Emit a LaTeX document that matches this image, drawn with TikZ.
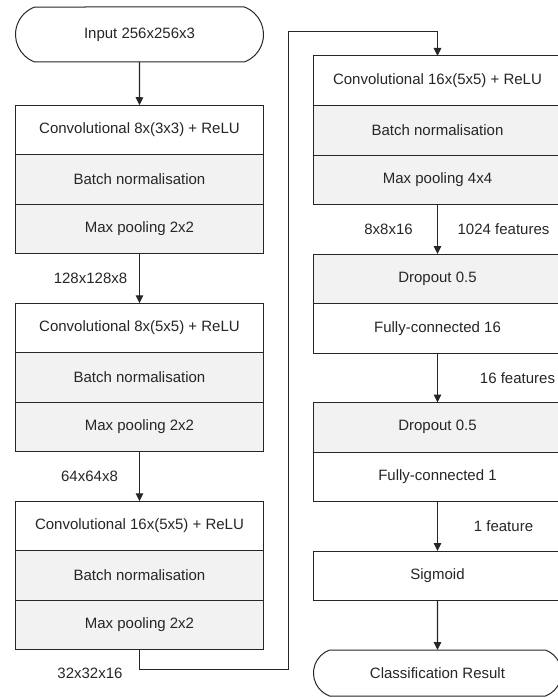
\documentclass[tikz,border=0pt]{standalone}
\usepackage{fontspec}
\setmainfont{Liberation Sans}
\usepackage{tikz}
\usetikzlibrary{positioning, arrows.meta, shapes.misc}

\definecolor{inkgrey}{HTML}{262626}
\definecolor{shadegrey}{HTML}{F2F2F2}

\tikzset{
	layer/.style={draw=inkgrey, fill=white, text=inkgrey, line width=1pt, minimum width=248pt, minimum height=49.5pt, inner sep=0pt, outer sep=0pt, font=\fontsize{15}{18}\selectfont},
	greylayer/.style={layer, fill=shadegrey},
	terminal/.style={layer, rounded rectangle, rounded rectangle arc length=140},
	flow/.style={-{Triangle[length=8pt, width=7.5pt]}, draw=inkgrey, line width=1.25pt},
	info/.style={text=inkgrey, font=\fontsize{15}{18}\selectfont}
}

\begin{document}
\begin{tikzpicture}[x=1pt, y=-1pt, node distance=49.5pt]
	\useasboundingbox (0,0) rectangle (557,698);
	
	% left column
	\node[terminal, minimum height=55pt] (input) at (139.5,34.5) {Input 256x256x3};
	\node[layer] (conv1) at (139.5,130) {Convolutional 8x(3x3) + ReLU};
	\node[greylayer, below=0pt of conv1] (bn1) {Batch normalisation};
	\node[greylayer, below=0pt of bn1] (pool1) {Max pooling 2x2};
	\node[layer, below=of pool1] (conv2) {Convolutional 8x(5x5) + ReLU};
	\node[greylayer, below=0pt of conv2] (bn2) {Batch normalisation};
	\node[greylayer, below=0pt of bn2] (pool2) {Max pooling 2x2};
	\node[layer, below=of pool2] (conv3) {Convolutional 16x(5x5) + ReLU};
	\node[greylayer, below=0pt of conv3] (bn3) {Batch normalisation};
	\node[greylayer, below=0pt of bn3] (pool3) {Max pooling 2x2};
	
	% right column
	\node[layer] (conv4) at (437.5,80.75) {Convolutional 16x(5x5) + ReLU};
	\node[greylayer, below=0pt of conv4] (bn4) {Batch normalisation};
	\node[greylayer, below=0pt of bn4] (pool4) {Max pooling 4x4};
	\node[greylayer, below=of pool4] (drop1) {Dropout 0.5};
	\node[layer, below=0pt of drop1] (fc16) {Fully-connected 16};
	\node[greylayer, below=of fc16] (drop2) {Dropout 0.5};
	\node[layer, below=0pt of drop2] (fc1) {Fully-connected 1};
	\node[layer, below=of fc1] (sigmoid) {Sigmoid};
	\node[terminal, minimum height=46pt, below=of sigmoid] (result) {Classification Result};
	
	\coordinate (turnlow) at (288.5,669.5);
	\coordinate (turnhigh) at (288.5,31.5);
	
	\draw (input) edge[flow] node{} (conv1) ;
	\draw (pool1) edge[flow] node[info, xshift=-49pt]{128x128x8} (conv2) ;
	\draw (pool2) edge[flow] node[info, xshift=-50pt]{64x64x8} (conv3) ;
	\draw[flow] (pool3.south) |- (turnlow) -- (turnhigh) -| (conv4.north) ;
	\node[info] (size3) at (90,673) {32x32x16};
	\draw (pool4) edge[flow] node[info, xshift=-49pt]{8x8x16} node[info, xshift=66pt]{1024 features} (drop1) ;
	\draw (fc16) edge[flow] node[info, xshift=80pt]{16 features} (drop2) ;
	\draw (fc1) edge[flow] node[info, xshift=66pt]{1 feature} (sigmoid) ;
	\draw (sigmoid) edge[flow] node{} (result) ;
	
\end{tikzpicture}
\end{document}
